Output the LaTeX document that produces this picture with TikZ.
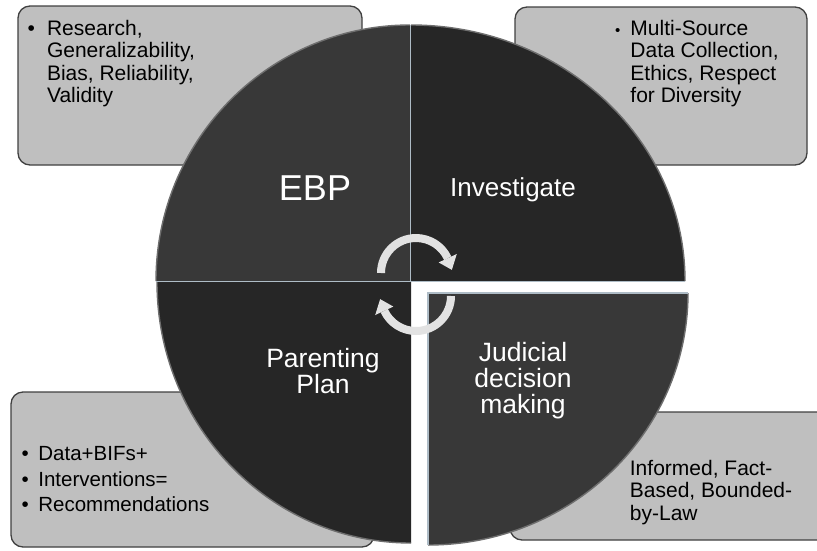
\documentclass[tikz,border=0pt]{standalone}
\usepackage{fontspec}
\setmainfont{Liberation Sans}
\usetikzlibrary{calc}
\definecolor{boxfill}{HTML}{BFBFBF}
\definecolor{boxline}{HTML}{404040}
\definecolor{quadlight}{HTML}{383838}
\definecolor{quaddark}{HTML}{262626}
\definecolor{edgeline}{HTML}{AEBCC6}
\definecolor{rimline}{HTML}{6E6E6E}
\definecolor{arrowgray}{HTML}{E2E2E2}

\begin{document}
\begin{tikzpicture}[x=1pt,y=-1pt,
  infobox/.style={fill=boxfill, draw=boxline, line width=1.3pt, rounded corners=12pt},
  rim/.style={draw=rimline, line width=1.4pt},
  seam/.style={draw=edgeline, line width=1.4pt},
  boxtext/.style={anchor=north west, inner sep=0pt, text=black, font=\fontsize{21}{22.5}\selectfont},
  quadtext/.style={text=white, align=center, inner sep=0pt, font=\fontsize{26.5}{26}\selectfont},
  cyclearrow/.style={draw=arrowgray, line width=8pt},
  arrowhead/.style={fill=arrowgray}
]
\useasboundingbox (0,0) rectangle (817,550);
\clip (0,0) rectangle (817,550);

% corner boxes holding the notes
\path[infobox] (18,6) rectangle (362,165);
\path[infobox] (515,7) rectangle (807,165);
\path[infobox] (11,392) rectangle (374,547);
\path[infobox] (510,412) rectangle (830,540);

% the four quadrants of the cycle: fill, then a soft rim on the arc
\fill[quadlight] (410,281) -- (156,281)
  arc[start angle=180, end angle=90, x radius=254pt, y radius=256pt] -- cycle;
\draw[rim] (156,281) arc[start angle=180, end angle=90, x radius=254pt, y radius=256pt];
\fill[quaddark] (411,281) -- (411,25)
  arc[start angle=90, end angle=0, x radius=274pt, y radius=256pt] -- cycle;
\draw[rim] (411,25) arc[start angle=90, end angle=0, x radius=274pt, y radius=256pt];
\fill[quaddark] (411,282) -- (157,282)
  arc[start angle=180, end angle=270, x radius=254pt, y radius=261pt] -- cycle;
\draw[rim] (157,282) arc[start angle=180, end angle=270, x radius=254pt, y radius=261pt];
\fill[quadlight] (428,293) -- (428,545)
  arc[start angle=270, end angle=360, x radius=260pt, y radius=252pt] -- cycle;
\draw[rim] (428,545) arc[start angle=270, end angle=360, x radius=260pt, y radius=252pt];

% light seams along the straight edges
\draw[seam] (156,281.5) -- (685,281.5);
\draw[seam] (410.5,25) -- (410.5,281.5);
\draw[seam] (688,293) -- (428,293) -- (428,545);

% circular arrows in the middle
\coordinate (ua) at (416,273);
\draw[cyclearrow] ($(ua)+(180:35pt)$) arc[start angle=180, end angle=25, radius=35pt];
\fill[arrowhead] ($(ua)+(25:25pt)$) -- ($(ua)+(25:45pt)$) -- ($(ua)+(5:36pt)$) -- cycle;
\coordinate (la) at (416,296);
\draw[cyclearrow] ($(la)+(0:35pt)$) arc[start angle=0, end angle=-155, radius=35pt];
\fill[arrowhead] ($(la)+(-155:25pt)$) -- ($(la)+(-155:45pt)$) -- ($(la)+(-175:36pt)$) -- cycle;

% quadrant titles
\node[quadtext, font=\fontsize{36}{40}\selectfont] (ebp) at (315,188) {EBP};
\node[quadtext, font=\fontsize{26}{26}\selectfont] (investigate) at (513,190) {Investigate};
\node[quadtext] (plan) at (323,371) {Parenting\\Plan};
\node[quadtext] (judicial) at (523,381) {Judicial\\decision\\making};

% notes
\node[boxtext] (research) at (27.5,19.5) {\begin{tabular}{@{}l@{\hspace{12pt}}l@{}}\textbullet & Research,\\ & Generalizability,\\ & Bias, Reliability,\\ & Validity\end{tabular}};
\node[boxtext] (datacoll) at (615,19.5) {\begin{tabular}{@{}l@{\hspace{10pt}}l@{}}{\fontsize{15}{15}\selectfont\textbullet} & Multi-Source\\ & Data Collection,\\ & Ethics, Respect\\ & for Diversity\end{tabular}};
\node[boxtext, font=\fontsize{20.5}{25.5}\selectfont] (recommend) at (21.5,442.8) {\begin{tabular}{@{}l@{\hspace{9.5pt}}l@{}}\textbullet & Data+BIFs+\\ \textbullet & Interventions=\\ \textbullet & Recommendations\end{tabular}};
\node[boxtext] (informed) at (629.7,459.3) {\begin{tabular}{@{}l@{}}Informed, Fact-\\Based, Bounded-\\by-Law\end{tabular}};
\end{tikzpicture}
\end{document}
